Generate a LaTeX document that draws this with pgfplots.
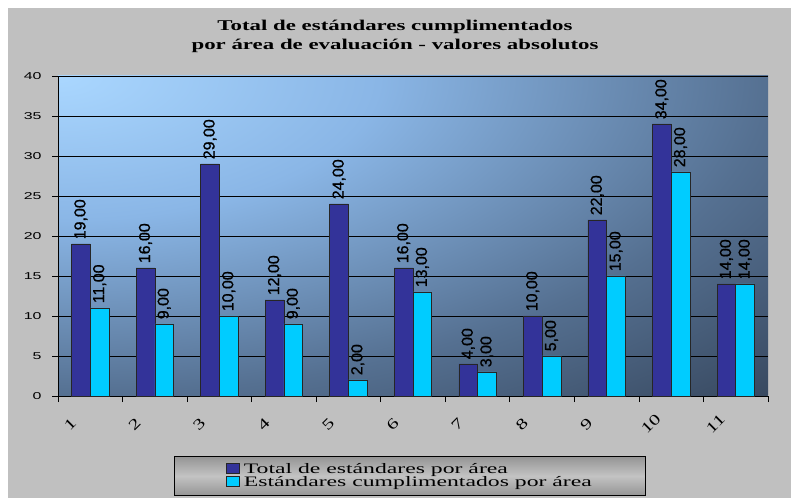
\documentclass[border=0pt]{standalone}
\usepackage{fontspec}
\setmainfont{Liberation Serif}
\newfontfamily\titlefont[FakeStretch=1.53]{Liberation Serif}
\newfontfamily\yfont[FakeStretch=1.6]{Liberation Sans}
\newfontfamily\xfont[FakeStretch=1.4]{Liberation Serif}
\newfontfamily\datafont[FakeBold=0.8]{Liberation Sans}
\newfontfamily\legfont[FakeStretch=1.64]{Liberation Serif}
\usepackage{pgfplots}
\pgfplotsset{compat=1.18}
\pgfplotsset{sqlegend/.style={legend image code/.code={\draw[##1, line width=0.6bp] (0bp,-3.5bp) rectangle (13bp,6.5bp);}}}
\definecolor{bgray}{RGB}{192,192,192}
\definecolor{darkbar}{RGB}{51,51,153}
\definecolor{cyanbar}{RGB}{0,204,255}
\pgfdeclareradialshading{plotglow}{\pgfpoint{0bp}{0bp}}{%
  color(0bp)=(rgb,255:red,170;green,215;blue,255);
  color(8bp)=(rgb,255:red,138;green,182;blue,230);
  color(17.7bp)=(rgb,255:red,85;green,112;blue,145);
  color(25bp)=(rgb,255:red,56;green,73;blue,96);
  color(50bp)=(rgb,255:red,56;green,73;blue,96)}
\pgfdeclareverticalshading{legshade}{100bp}{%
  color(0bp)=(rgb,255:red,85;green,85;blue,85);
  color(20bp)=(rgb,255:red,140;green,140;blue,140);
  color(50bp)=(rgb,255:red,195;green,195;blue,195);
  color(80bp)=(rgb,255:red,140;green,140;blue,140);
  color(100bp)=(rgb,255:red,85;green,85;blue,85)}
\begin{document}
\begin{tikzpicture}
\useasboundingbox (0bp,0bp) rectangle (791bp,498bp);
\fill[white] (0bp,0bp) rectangle (791bp,498bp);
\fill[bgray] (8bp,0bp) rectangle (791bp,490bp);
\node[font=\titlefont\bfseries\fontsize{15}{19}\selectfont, align=center] at (395bp,461.5bp)
  {Total de estándares cumplimentados\\por área de evaluación - valores absolutos};
\begin{axis}[
  at={(58bp,102bp)}, anchor=south west,
  scale only axis, width=710bp, height=320bp,
  xmin=0.5, xmax=11.5, ymin=0, ymax=40,
  ybar=0pt, bar width=0.29,
  clip=false,
  axis x line*=bottom, axis y line*=left,
  axis line style={black, line width=0.8bp, -},
  axis background/.style={path picture={
    \shade[shading=plotglow] (path picture bounding box.north west) ellipse [x radius=1004bp, y radius=452bp];}},
  ymajorgrids, major grid style={black, line width=0.8bp},
  tick align=outside, major tick length=6bp,
  tick style={black, line width=0.8bp},
  xtick={0.5,1.5,...,11.5},
  xticklabels={1,2,3,4,5,6,7,8,9,10,11,{}},
  ytick={0,5,...,40},
  /pgf/number format/assume math mode=true,
  yticklabel style={font=\yfont\fontsize{10}{12}\selectfont, xshift=-7bp},
  xticklabel style={font=\xfont\fontsize{15}{15}\selectfont, inner sep=0pt, xshift=12bp, yshift=-22bp, rotate=45, anchor=center},
  nodes near coords={\pgfmathprintnumber[fixed, fixed zerofill, precision=2, use comma]{\pgfplotspointmeta}},
  every node near coord/.append style={rotate=90, anchor=west, font=\datafont\fontsize{16}{16}\selectfont, inner sep=4.5bp, black},
  legend style={at={(0.4958,-0.25)}, anchor=center, draw=black, line width=0.8bp,
    shading=legshade,
    font=\legfont\fontsize{14.5}{15}\selectfont, inner xsep=52bp, inner ysep=5bp,
    row sep=-2.5bp, column sep=2bp},
  legend cell align=left,
]
\addplot[fill=darkbar, draw=black!85, line width=0.6bp, sqlegend]
  coordinates {(1,19) (2,16) (3,29) (4,12) (5,24) (6,16) (7,4) (8,10) (9,22) (10,34) (11,14)};
\addplot[fill=cyanbar, draw=black!85, line width=0.6bp, sqlegend]
  coordinates {(1,11) (2,9) (3,10) (4,9) (5,2) (6,13) (7,3) (8,5) (9,15) (10,28) (11,14)};
\legend{Total de estándares por área, Estándares cumplimentados por área}
\end{axis}
\end{tikzpicture}
\end{document}
